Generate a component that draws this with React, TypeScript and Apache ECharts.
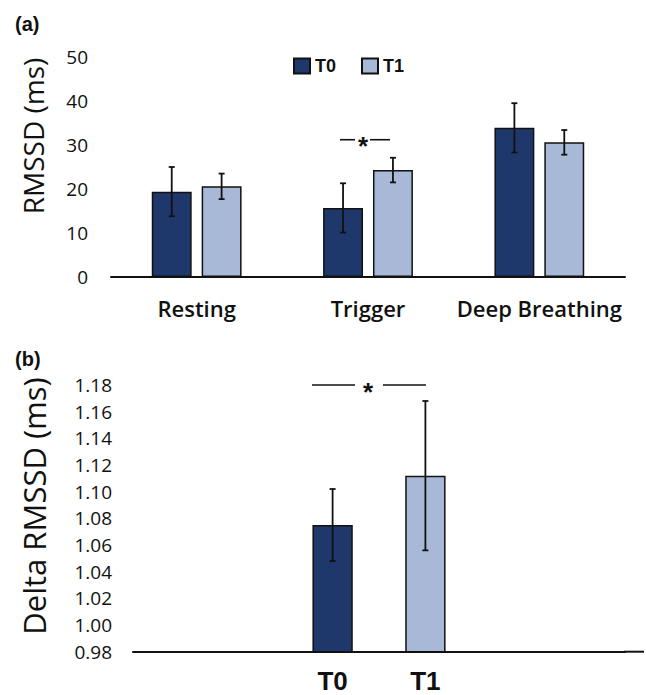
import React, { useEffect, useRef } from "react";
import * as echarts from "echarts";

// ---------- data ----------
const categories = ["Resting", "Trigger", "Deep Breathing"];
const seriesNames = ["T0", "T1"];
const t0Means = [19.4, 15.7, 33.9];
const t0Err = [5.6, 5.6, 5.6];
const t1Means = [20.6, 24.3, 30.6];
const t1Err = [2.9, 2.8, 2.8];
const topYMin = 0;
const topYMax = 50;
const topYStep = 10;
const topSig = [[1, 31.2]]; // [category index, value]

const deltaCategory = ["Delta"];
const deltaMeans = [1.075, 1.112];
const deltaErr = [0.027, 0.056];
const botYMin = 0.98;
const botYMax = 1.18;
const botYStep = 0.02;
const botSig = [[0, 1.18]];

// ---------- style ----------
const C0 = "#1f386b";
const C1 = "#a7b9d7";
const INK = "#111111";
const SANS = "'Open Sans', 'Noto Sans', sans-serif";
const ARIAL = "'Liberation Sans', Arial, sans-serif";
const TOP_BW = 0.233;
const TOP_GAP = 0.25;
const BOT_BW = 0.082;
const BOT_GAP = 1.3;

function errRender(sign: number, bw: number, gap: number) {
  return (params: any, api: any) => {
    const band = api.size([1, 0])[0];
    const off = (sign * band * bw * (1 + gap)) / 2;
    const hi = api.coord([api.value(0), api.value(2)]);
    const lo = api.coord([api.value(0), api.value(1)]);
    const x = hi[0] + off;
    const cap = 3;
    const st = { stroke: INK, lineWidth: 1.8 };
    return {
      type: "group",
      children: [
        { type: "line", shape: { x1: x, y1: hi[1], x2: x, y2: lo[1] }, style: st },
        { type: "line", shape: { x1: x - cap, y1: hi[1], x2: x + cap, y2: hi[1] }, style: st },
        { type: "line", shape: { x1: x - cap, y1: lo[1], x2: x + cap, y2: lo[1] }, style: st },
      ],
    };
  };
}

function sigRender(l1: number[], star: number, l2: number[], size: number) {
  return (params: any, api: any) => {
    const p = api.coord([api.value(0), api.value(1)]);
    const st = { stroke: INK, lineWidth: 1.6 };
    return {
      type: "group",
      children: [
        { type: "line", shape: { x1: p[0] + l1[0], y1: p[1], x2: p[0] + l1[1], y2: p[1] }, style: st },
        { type: "line", shape: { x1: p[0] + l2[0], y1: p[1], x2: p[0] + l2[1], y2: p[1] }, style: st },
        {
          type: "text",
          x: p[0] + star,
          y: p[1] + size * 0.25,
          style: {
            text: "*",
            fill: INK,
            font: `bold ${size}px ${ARIAL}`,
            align: "center",
            verticalAlign: "middle",
          },
        },
      ],
    };
  };
}

export default function App() {
  const ref = useRef<HTMLDivElement>(null);

  useEffect(() => {
    if (!ref.current) return;
    const chart = echarts.init(ref.current, null, { renderer: "svg" });

    const barBase = {
      type: "bar",
      itemStyle: { borderColor: INK, borderWidth: 1.5 },
    };
    const bottomLabel = {
      show: true,
      position: "bottom",
      distance: 16,
      formatter: "{a}",
      fontFamily: ARIAL,
      fontWeight: "bold",
      fontSize: 26,
      color: INK,
    };

    const option: any = {
      animation: false,
      backgroundColor: "#ffffff",
      legend: {
        data: seriesNames,
        left: 288,
        top: 52,
        icon: "rect",
        itemWidth: 16,
        itemHeight: 15,
        itemGap: 25,
        textStyle: { fontFamily: ARIAL, fontWeight: "bold", fontSize: 18, color: INK },
      },
      grid: [
        { left: 111, right: 21, top: 57, bottom: 418, outerBoundsMode: "none" },
        { left: 133, right: 21, top: 385, bottom: 43.3, outerBoundsMode: "none" },
      ],
      xAxis: [
        {
          type: "category",
          gridIndex: 0,
          data: categories,
          axisLine: { lineStyle: { color: INK, width: 2 } },
          axisTick: { show: false },
          axisLabel: {
            interval: 0,
            margin: 20,
            fontFamily: SANS,
            fontSize: 22,
            fontWeight: 600,
            color: INK,
          },
        },
        {
          type: "category",
          gridIndex: 1,
          data: deltaCategory,
          axisLine: { lineStyle: { color: INK, width: 2 } },
          axisTick: { show: false },
          axisLabel: { show: false },
        },
      ],
      yAxis: [
        {
          type: "value",
          gridIndex: 0,
          min: topYMin,
          max: topYMax,
          interval: topYStep,
          axisLine: { show: false },
          axisTick: { show: false },
          splitLine: { show: false },
          axisLabel: { margin: 23, fontFamily: SANS, fontSize: 19, fontWeight: 500, color: INK },
        },
        {
          type: "value",
          gridIndex: 1,
          min: botYMin,
          max: botYMax,
          interval: botYStep,
          axisLine: { show: false },
          axisTick: { show: false },
          splitLine: { show: false },
          axisLabel: {
            margin: 21,
            fontFamily: SANS,
            fontSize: 19,
            fontWeight: 500,
            color: INK,
            formatter: (v: number) => v.toFixed(2),
          },
        },
      ],
      series: [
        {
          ...barBase,
          name: seriesNames[0],
          xAxisIndex: 0,
          yAxisIndex: 0,
          data: t0Means,
          barWidth: `${TOP_BW * 100}%`,
          itemStyle: { ...barBase.itemStyle, color: C0 },
        },
        {
          ...barBase,
          name: seriesNames[1],
          xAxisIndex: 0,
          yAxisIndex: 0,
          data: t1Means,
          barWidth: `${TOP_BW * 100}%`,
          barGap: `${TOP_GAP * 100}%`,
          itemStyle: { ...barBase.itemStyle, color: C1 },
        },
        {
          type: "custom",
          xAxisIndex: 0,
          yAxisIndex: 0,
          renderItem: errRender(-1, TOP_BW, TOP_GAP),
          data: t0Means.map((m, i) => [i, m - t0Err[i], m + t0Err[i]]),
          encode: { x: 0, y: [1, 2] },
          z: 5,
        },
        {
          type: "custom",
          xAxisIndex: 0,
          yAxisIndex: 0,
          renderItem: errRender(1, TOP_BW, TOP_GAP),
          data: t1Means.map((m, i) => [i, m - t1Err[i], m + t1Err[i]]),
          encode: { x: 0, y: [1, 2] },
          z: 5,
        },
        {
          type: "custom",
          xAxisIndex: 0,
          yAxisIndex: 0,
          renderItem: sigRender([-28, -13], -5, [2, 22], 26),
          data: topSig,
          encode: { x: 0, y: 1 },
          z: 5,
        },
        {
          ...barBase,
          name: seriesNames[0],
          xAxisIndex: 1,
          yAxisIndex: 1,
          data: [deltaMeans[0]],
          barWidth: `${BOT_BW * 100}%`,
          itemStyle: { ...barBase.itemStyle, color: C0 },
          label: bottomLabel,
        },
        {
          ...barBase,
          name: seriesNames[1],
          xAxisIndex: 1,
          yAxisIndex: 1,
          data: [deltaMeans[1]],
          barWidth: `${BOT_BW * 100}%`,
          barGap: `${BOT_GAP * 100}%`,
          itemStyle: { ...barBase.itemStyle, color: C1 },
          label: bottomLabel,
        },
        {
          type: "custom",
          xAxisIndex: 1,
          yAxisIndex: 1,
          renderItem: errRender(-1, BOT_BW, BOT_GAP),
          data: [[0, deltaMeans[0] - deltaErr[0], deltaMeans[0] + deltaErr[0]]],
          encode: { x: 0, y: [1, 2] },
          z: 5,
        },
        {
          type: "custom",
          xAxisIndex: 1,
          yAxisIndex: 1,
          renderItem: errRender(1, BOT_BW, BOT_GAP),
          data: [[0, deltaMeans[1] - deltaErr[1], deltaMeans[1] + deltaErr[1]]],
          encode: { x: 0, y: [1, 2] },
          z: 5,
        },
        {
          type: "custom",
          xAxisIndex: 1,
          yAxisIndex: 1,
          renderItem: sigRender([-67, -24], -11, [4, 47], 26),
          data: botSig,
          encode: { x: 0, y: 1 },
          z: 5,
        },
      ],
      graphic: [
        {
          type: "text",
          left: 15,
          top: 14,
          style: { text: "(a)", font: `bold 20px ${ARIAL}`, fill: INK },
        },
        {
          type: "text",
          left: 15,
          top: 349,
          style: { text: "(b)", font: `bold 20px ${ARIAL}`, fill: INK },
        },
        {
          type: "text",
          x: 33,
          y: 136,
          rotation: Math.PI / 2,
          style: {
            text: "RMSSD (ms)",
            font: `500 28px ${SANS}`,
            fill: INK,
            align: "center",
            verticalAlign: "middle",
          },
        },
        {
          type: "text",
          x: 34,
          y: 506,
          rotation: Math.PI / 2,
          style: {
            text: "Delta RMSSD (ms)",
            font: `500 31px ${SANS}`,
            fill: INK,
            align: "center",
            verticalAlign: "middle",
          },
        },
        {
          type: "line",
          shape: { x1: 624, y1: 651.7, x2: 644, y2: 651.7 },
          style: { stroke: INK, lineWidth: 2 },
        },
      ],
    };

    chart.setOption(option);
    return () => chart.dispose();
  }, []);

  return (
    <div
      ref={ref}
      style={{ position: "fixed", left: 0, top: 0, width: 646, height: 695, background: "#fff" }}
    />
  );
}
